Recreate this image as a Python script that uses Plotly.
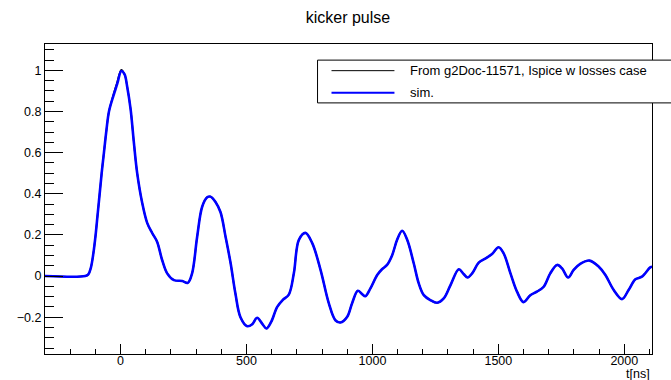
import plotly.graph_objects as go

# Time axis [ns] and pulse amplitude (normalised)
t_ns = [-300, -140, -128, -118, -108, -99, -91, -83, -75, -66, -56, -46, -30, -13, 3, 16, 26,
        40, 53, 66, 86, 106, 126, 145, 165, 185, 212, 245, 267, 284, 304, 324, 344, 357, 377,
        397, 417, 437, 456, 476, 503, 523, 542, 562, 579, 598, 622, 645, 668, 688, 708, 734,
        761, 794, 827, 853, 873, 900, 919, 942, 959, 972, 992, 1019, 1038, 1058, 1078, 1098,
        1118, 1138, 1164, 1184, 1204, 1230, 1257, 1283, 1310, 1343, 1362, 1378, 1396, 1422,
        1448, 1475, 1501, 1521, 1548, 1574, 1600, 1627, 1653, 1680, 1706, 1733, 1753, 1777,
        1799, 1825, 1862, 1898, 1925, 1958, 1991, 2017, 2044, 2070, 2103, 2110]

v_ref = [0, 0, 0.008, 0.04, 0.11, 0.2, 0.3, 0.4, 0.5, 0.6, 0.71, 0.8, 0.875, 0.945, 1.003,
         0.98, 0.923, 0.81, 0.647, 0.5, 0.355, 0.257, 0.208, 0.167, 0.078, 0.013, -0.02,
         -0.024, -0.033, 0.013, 0.19, 0.337, 0.383, 0.386, 0.36, 0.31, 0.19, 0.062, -0.085,
         -0.2, -0.244, -0.234, -0.203, -0.231, -0.255, -0.223, -0.15, -0.115, -0.09, 0.013,
         0.176, 0.21, 0.16, 0.03, -0.133, -0.215, -0.226, -0.198, -0.133, -0.072, -0.088,
         -0.098, -0.06, 0.005, 0.033, 0.054, 0.1, 0.176, 0.22, 0.176, 0.062, -0.036, -0.093,
         -0.117, -0.13, -0.109, -0.044, 0.033, 0.01, -0.007, 0.013, 0.065, 0.085, 0.107, 0.14,
         0.11, 0.013, -0.076, -0.127, -0.093, -0.076, -0.052, 0.013, 0.054, 0.037, -0.007,
         0.03, 0.059, 0.075, 0.046, 0.005, -0.068, -0.112, -0.068, -0.016, -0.003, 0.042, 0.045]

v_sim = [0, 0, 0.008, 0.04, 0.11, 0.2, 0.3, 0.4, 0.5, 0.6, 0.71, 0.8, 0.87, 0.935, 0.997,
         0.98, 0.923, 0.81, 0.647, 0.5, 0.355, 0.257, 0.208, 0.167, 0.078, 0.013, -0.02,
         -0.024, -0.033, 0.013, 0.19, 0.337, 0.383, 0.386, 0.36, 0.31, 0.19, 0.062, -0.085,
         -0.2, -0.244, -0.234, -0.203, -0.231, -0.255, -0.223, -0.15, -0.115, -0.09, 0.013,
         0.176, 0.21, 0.16, 0.03, -0.133, -0.215, -0.226, -0.198, -0.133, -0.072, -0.088,
         -0.098, -0.06, 0.005, 0.033, 0.054, 0.1, 0.176, 0.22, 0.176, 0.062, -0.036, -0.093,
         -0.117, -0.13, -0.109, -0.044, 0.033, 0.01, -0.007, 0.013, 0.065, 0.085, 0.107, 0.14,
         0.11, 0.013, -0.076, -0.127, -0.093, -0.076, -0.052, 0.013, 0.054, 0.037, -0.007,
         0.03, 0.059, 0.075, 0.046, 0.005, -0.068, -0.112, -0.068, -0.016, -0.003, 0.042, 0.045]

series_names = ["From g2Doc-11571, Ispice w losses case", "sim."]
series_colors = ["black", "blue"]

FONT = "Liberation Sans, Arial, Helvetica, sans-serif"

fig = go.Figure()
fig.add_trace(go.Scatter(x=t_ns, y=v_ref, mode="lines", name=series_names[0],
                         line=dict(color=series_colors[0], width=1.6, shape="spline", smoothing=1.0)))
fig.add_trace(go.Scatter(x=t_ns, y=v_sim, mode="lines", name=series_names[1],
                         line=dict(color=series_colors[1], width=2.6, shape="spline", smoothing=1.0)))

# Boxed legend in the upper right, drawn with shapes and text
lx0, lx1, ly0, ly1 = 0.449, 1.08, 0.810, 0.948
shapes = [dict(type="rect", xref="paper", yref="paper", x0=lx0, x1=lx1, y0=ly0, y1=ly1,
               line=dict(color="black", width=1), fillcolor="white", layer="above")]
annotations = []
for row_y, name, color, w in [(0.914, series_names[0], series_colors[0], 1),
                              (0.843, series_names[1], series_colors[1], 2)]:
    shapes.append(dict(type="line", xref="paper", yref="paper", x0=0.472, x1=0.5757,
                       y0=row_y, y1=row_y, line=dict(color=color, width=w), layer="above"))
    annotations.append(dict(text=name, xref="paper", yref="paper", x=0.5987, y=row_y,
                            xanchor="left", yanchor="middle", showarrow=False,
                            font=dict(family=FONT, size=13, color="black")))

annotations.append(dict(text="t[ns]", xref="paper", yref="paper", x=1.0, y=-0.066,
                        xanchor="right", yanchor="middle", showarrow=False,
                        font=dict(family=FONT, size=12.5, color="black")))

axis_common = dict(showgrid=False, zeroline=False, showline=True, linecolor="black",
                   linewidth=1, mirror=True, ticks="inside", tickcolor="black",
                   automargin=False,
                   tickfont=dict(family=FONT, size=12.5, color="black"))

fig.update_layout(
    width=671, height=380,
    margin=dict(l=45, r=19, t=44, b=26),
    paper_bgcolor="white", plot_bgcolor="white",
    showlegend=False,
    title=dict(text="kicker pulse", x=0.5186, xref="container", xanchor="center",
               y=0.953, yref="container", yanchor="middle",
               font=dict(family=FONT, size=16, color="black")),
    xaxis=dict(range=[-300, 2110], tick0=0, dtick=500, ticklen=10, tickwidth=1,
               ticklabelstandoff=-5,
               minor=dict(dtick=100, tick0=0, ticklen=5, ticks="inside", tickcolor="black"),
               **axis_common),
    yaxis=dict(range=[-0.379, 1.128], tick0=0, dtick=0.2, ticklen=18, tickwidth=1,
               minor=dict(dtick=0.05, tick0=0, ticklen=9, ticks="inside", tickcolor="black"),
               **axis_common),
    shapes=shapes,
    annotations=annotations,
)

fig.write_html("out.html")
